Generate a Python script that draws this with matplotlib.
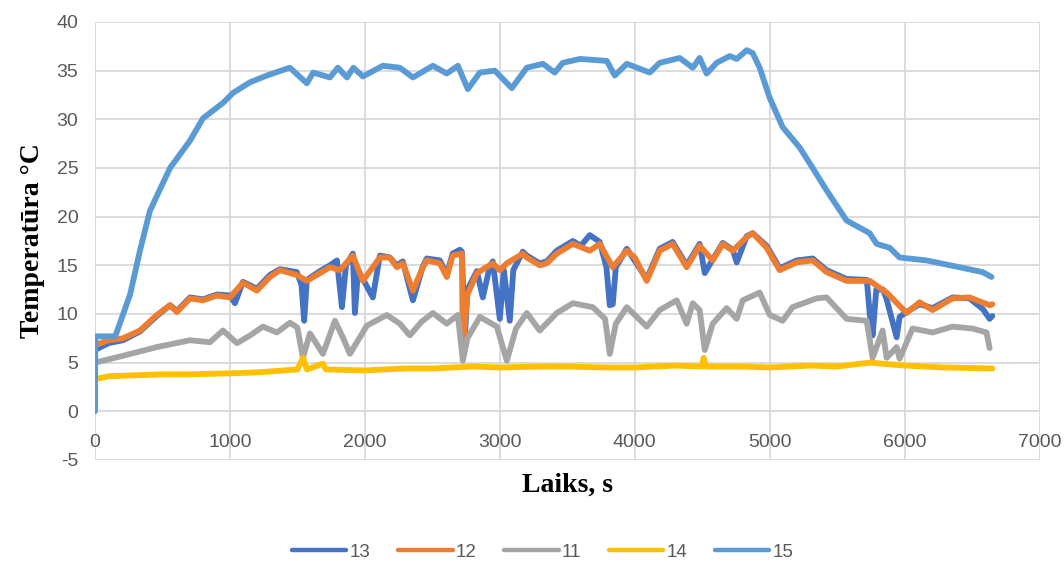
import matplotlib
matplotlib.use("Agg")
import matplotlib.pyplot as plt

plt.rcParams["axes.unicode_minus"] = False

# ---- dati (nolasīti no attēla) ----
t13 = [0, 100, 207, 333, 459, 556, 607, 704, 800, 904, 1000, 1037, 1096, 1200, 1296, 1370, 1496, 1530, 1550,
       1570, 1667, 1741, 1793, 1830, 1860, 1911, 1926, 1950, 1985, 2059, 2111, 2185, 2237, 2281, 2356, 2430,
       2459, 2556, 2607, 2650, 2704, 2719, 2741, 2760, 2830, 2874, 2926, 2948, 3000, 3030, 3074, 3100, 3170,
       3200, 3296, 3348, 3422, 3541, 3600, 3667, 3741, 3790, 3815, 3837, 3860, 3941, 4089, 4185, 4281, 4385,
       4481, 4519, 4578, 4652, 4726, 4756, 4830, 4874, 4978, 5074, 5200, 5319, 5422, 5570, 5720, 5741, 5763,
       5790, 5841, 5867, 5941, 5963, 6015, 6111, 6207, 6356, 6481, 6580, 6630, 6650]
v13 = [6.3, 7.0, 7.3, 8.2, 9.8, 10.9, 10.3, 11.7, 11.5, 12.0, 11.9, 11.1, 13.3, 12.6, 14.0, 14.6, 14.3, 13.0, 9.3,
       13.5, 14.4, 15.0, 15.5, 10.7, 15.0, 16.2, 10.1, 14.5, 13.6, 11.7, 16.0, 15.8, 15.0, 15.4, 11.4, 14.9,
       15.7, 15.5, 14.0, 16.2, 16.6, 16.4, 7.5, 12.5, 14.4, 11.7, 14.9, 15.4, 9.5, 14.5, 9.3, 14.5, 16.4,
       16.0, 15.2, 15.4, 16.5, 17.5, 17.0, 18.1, 17.4, 14.8, 10.9, 11.0, 14.8, 16.7, 13.6, 16.7, 17.4, 15.0,
       17.2, 14.2, 15.6, 17.3, 16.6, 15.3, 18.0, 18.3, 17.0, 14.7, 15.5, 15.7, 14.5, 13.6, 13.5, 10.1, 7.8,
       12.5, 12.5, 11.5, 7.6, 9.7, 10.2, 11.0, 10.6, 11.7, 11.6, 10.5, 9.5, 9.8]

t12 = [0, 100, 207, 333, 459, 556, 607, 704, 800, 904, 1000, 1096, 1200, 1296, 1370, 1496, 1570, 1667, 1741,
       1815, 1911, 1985, 2111, 2185, 2237, 2281, 2356, 2430, 2459, 2556, 2607, 2650, 2719, 2726, 2741, 2760,
       2830, 2948, 3000, 3052, 3170, 3200, 3296, 3348, 3422, 3541, 3667, 3741, 3837, 3941, 4000, 4089, 4185,
       4281, 4385, 4481, 4578, 4652, 4726, 4830, 4874, 4978, 5074, 5200, 5319, 5422, 5570, 5741, 5867, 6015,
       6111, 6207, 6356, 6481, 6630, 6650]
v12 = [6.8, 7.3, 7.5, 8.3, 9.9, 10.9, 10.2, 11.6, 11.4, 11.9, 11.7, 13.2, 12.4, 13.8, 14.5, 14.0, 13.4, 14.2, 14.8,
       14.5, 16.0, 13.4, 15.8, 15.8, 14.8, 15.2, 12.4, 14.8, 15.5, 15.2, 13.8, 16.0, 16.2, 6.6, 9.0, 12.0,
       14.2, 15.2, 14.5, 15.2, 16.2, 15.8, 15.0, 15.2, 16.2, 17.2, 16.5, 17.2, 14.8, 16.5, 15.8, 13.4, 16.5,
       17.2, 14.8, 17.0, 15.5, 17.2, 16.5, 17.9, 18.3, 16.8, 14.5, 15.3, 15.5, 14.3, 13.4, 13.4, 12.2, 10.1,
       11.2, 10.4, 11.6, 11.7, 10.9, 11.0]

t11 = [0, 207, 459, 704, 852, 948, 1052, 1150, 1244, 1348, 1444, 1500, 1541, 1593, 1689, 1778, 1840, 1889, 2015,
       2163, 2259, 2333, 2420, 2504, 2607, 2689, 2726, 2760, 2852, 2978, 3052, 3120, 3200, 3296, 3422, 3541,
       3689, 3780, 3815, 3860, 3941, 4089, 4185, 4311, 4385, 4430, 4481, 4519, 4578, 4681, 4756, 4800, 4926,
       5000, 5096, 5170, 5348, 5422, 5570, 5719, 5763, 5837, 5867, 5941, 5963, 6059, 6207, 6356, 6504, 6607,
       6630]
v11 = [5.0, 5.7, 6.6, 7.3, 7.1, 8.3, 7.0, 7.8, 8.7, 8.1, 9.1, 8.6, 5.5, 8.0, 5.9, 9.3, 7.5, 5.9, 8.8,
       9.9, 9.0, 7.8, 9.2, 10.1, 9.0, 9.9, 5.2, 7.5, 9.7, 8.7, 5.2, 8.5, 10.1, 8.3, 10.1, 11.1,
       10.7, 9.5, 5.9, 9.0, 10.7, 8.7, 10.4, 11.4, 9.0, 11.1, 10.4, 6.3, 9.0, 10.6, 9.5, 11.4, 12.2,
       9.9, 9.3, 10.7, 11.6, 11.7, 9.5, 9.3, 5.5, 8.3, 5.5, 6.6, 5.4, 8.5, 8.1, 8.7, 8.5, 8.1,
       6.5]

t14 = [0, 100, 300, 500, 700, 1000, 1200, 1300, 1500, 1541, 1570, 1689, 1710, 2000, 2300, 2500, 2800, 3000,
       3300, 3500, 3800, 4000, 4300, 4500, 4510, 4530, 4800, 5000, 5300, 5500, 5741, 6000, 6300, 6650]
v14 = [3.3, 3.6, 3.7, 3.8, 3.8, 3.9, 4.0, 4.1, 4.3, 5.5, 4.3, 4.9, 4.3, 4.2, 4.4, 4.4, 4.6, 4.5,
       4.6, 4.6, 4.5, 4.5, 4.7, 4.6, 5.5, 4.6, 4.6, 4.5, 4.7, 4.6, 5.0, 4.7, 4.5, 4.4]

t15 = [0, 2, 150, 260, 333, 407, 556, 704, 800, 950, 1022, 1148, 1274, 1444, 1570, 1617, 1741, 1800, 1867,
       1915, 1985, 2133, 2259, 2356, 2504, 2607, 2689, 2763, 2852, 2963, 3089, 3200, 3319, 3407, 3467, 3593,
       3793, 3852, 3941, 4111, 4185, 4333, 4430, 4481, 4533, 4607, 4704, 4756, 4830, 4874, 4926, 5000, 5096,
       5222, 5296, 5422, 5570, 5741, 5793, 5889, 5963, 6163, 6407, 6578, 6644]
v15 = [0.0, 7.7, 7.7, 12.0, 16.5, 20.6, 25.0, 27.8, 30.1, 31.7, 32.7, 33.8, 34.5, 35.3, 33.7, 34.8, 34.3, 35.3, 34.3,
       35.3, 34.4, 35.5, 35.3, 34.3, 35.5, 34.7, 35.5, 33.1, 34.8, 35.0, 33.2, 35.3, 35.7, 34.8, 35.8, 36.2,
       36.0, 34.5, 35.7, 34.8, 35.8, 36.3, 35.3, 36.3, 34.7, 35.8, 36.5, 36.2, 37.1, 36.8, 35.3, 32.2, 29.2,
       27.1, 25.5, 22.7, 19.6, 18.3, 17.2, 16.8, 15.8, 15.5, 14.8, 14.3, 13.8]

series = [("13", t13, v13, "#4472C4"),
          ("12", t12, v12, "#ED7D31"),
          ("11", t11, v11, "#A5A5A5"),
          ("14", t14, v14, "#FFC000"),
          ("15", t15, v15, "#5B9BD5")]

fig = plt.figure(figsize=(10.64, 5.63), dpi=100)
ax = fig.add_axes([0.0893, 0.183, 0.8877, 0.778])
for name, t, v, c in series:
    ax.plot(t, v, color=c, lw=4.2, label=name, solid_capstyle="round", solid_joinstyle="round")

ax.set_xlim(0, 7000)
ax.set_ylim(-5, 40)
ax.set_xticks(range(0, 7001, 1000))
ax.set_yticks(range(-5, 41, 5))
ax.grid(True, color="#D9D9D9", lw=1.3)
ax.set_axisbelow(True)
# horizontālā ass krusto pie 0 -> skaitļi starp 0 un -5
ax.spines["bottom"].set_position(("data", 0))
for s in ax.spines.values():
    s.set_visible(False)
ax.tick_params(axis="y", length=0, labelsize=14, labelcolor="#595959", pad=12)
ax.tick_params(axis="x", length=0, labelsize=14, labelcolor="#595959", pad=16)
for lb in ax.get_xticklabels() + ax.get_yticklabels():
    lb.set_family("Liberation Sans")

fig.text(0.533, 1 - 485 / 563, "Laiks, s", family="Liberation Serif", weight="bold", fontsize=20,
         ha="center", va="center")
ax.set_ylabel("Temperatūra °C", family="Liberation Serif", weight="bold", fontsize=20, labelpad=8)

leg = fig.legend(loc="center", ncol=5, frameon=False, bbox_to_anchor=(0.51, 1 - 552 / 563),
                 handlelength=2.9, columnspacing=1.5, handletextpad=0.15,
                 prop={"family": "Liberation Sans", "size": 13.5})
for ln in leg.get_lines():
    ln.set_linewidth(3.2)
for tx in leg.get_texts():
    tx.set_color("#595959")

fig.savefig("out.png", dpi=100, facecolor="white")
